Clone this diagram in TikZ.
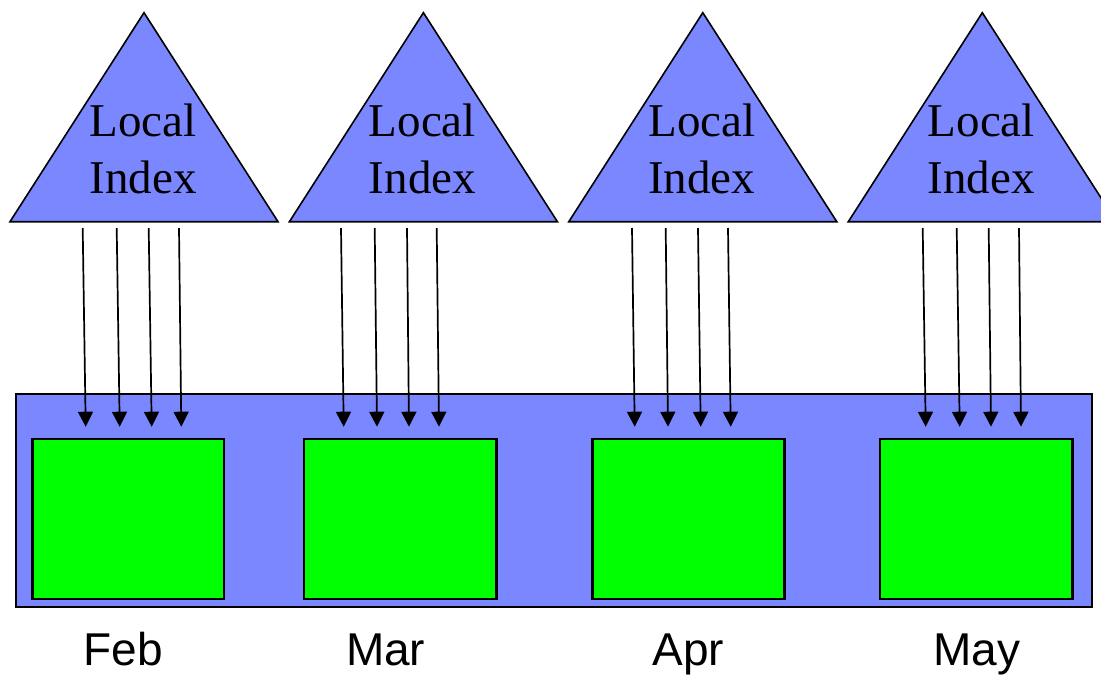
\documentclass[tikz,border=0pt]{standalone}
\usepackage{fontspec}
\setmainfont{Liberation Serif}
\newfontfamily\monthfont{Liberation Sans}
\usetikzlibrary{arrows.meta}
\definecolor{idxblue}{RGB}{122,135,255}
\definecolor{boxgreen}{RGB}{0,255,0}
\tikzset{
  tri/.style={draw=black, fill=idxblue, line width=1.6pt, line join=miter},
  band/.style={draw=black, fill=idxblue, line width=1.6pt},
  gbox/.style={draw=black, fill=boxgreen, line width=2.8pt},
  ptr/.style={draw=black, line width=1.7pt, -{Triangle[length=15pt,width=15pt]}},
  idxtext/.style={font=\fontsize{47}{56.6}\selectfont, align=center, inner sep=0pt, text depth=0pt},
  monthtext/.style={font=\monthfont\fontsize{46}{54}\selectfont, inner sep=0pt, anchor=base}
}
\begin{document}
\begin{tikzpicture}[x=1pt,y=-1pt]
\useasboundingbox (0,0) rectangle (1101,678);
% band
\path[band] (16,394) rectangle (1091.7,606.7);
% green boxes
\path[gbox] (32.3,439) rectangle (224,599);
\path[gbox] (304,439) rectangle (496.7,599);
\path[gbox] (592.3,439) rectangle (784.3,599);
\path[gbox] (880,439) rectangle (1072.3,599);
% triangles
\foreach \cx/\nm in {144/feb,423.4/mar,702.8/apr,982.3/may}{
  \path[tri] (\cx,12.7) -- (\cx+134,221.7) -- (\cx-134,221.7) -- cycle;
  \node[idxtext, anchor=base] (l-\nm) at (\cx-1,136.7) {Local};
  \node[idxtext, anchor=base] (i-\nm) at (\cx-1,193.3) {Index};
}
% arrows
\foreach \nm/\a/\b/\c/\d/\e/\f/\g/\h in {
  feb/82.7/85.7/116.7/119.7/148.7/151.7/179/181.3,
  mar/341/343.7/374.7/377/407/409/436.7/439,
  apr/632/634.7/665.7/668/698/700.7/728/730.7,
  may/922.7/925.7/956.7/959.7/988.7/991/1019/1021}{
  \coordinate (s1-\nm) at (\a,228); \coordinate (t1-\nm) at (\b,426.7);
  \coordinate (s2-\nm) at (\c,228); \coordinate (t2-\nm) at (\d,426.7);
  \coordinate (s3-\nm) at (\e,228); \coordinate (t3-\nm) at (\f,426.7);
  \coordinate (s4-\nm) at (\g,228); \coordinate (t4-\nm) at (\h,426.7);
  \foreach \k in {1,2,3,4}{ \draw[ptr] (s\k-\nm) -- (t\k-\nm); }
}
% month labels
\node[monthtext] (feb) at (123.5,665.7) {Feb};
\node[monthtext] (mar) at (385.7,665.7) {Mar};
\node[monthtext] (apr) at (688.5,665.7) {Apr};
\node[monthtext] (may) at (977,665.7) {May};
\end{tikzpicture}
\end{document}
